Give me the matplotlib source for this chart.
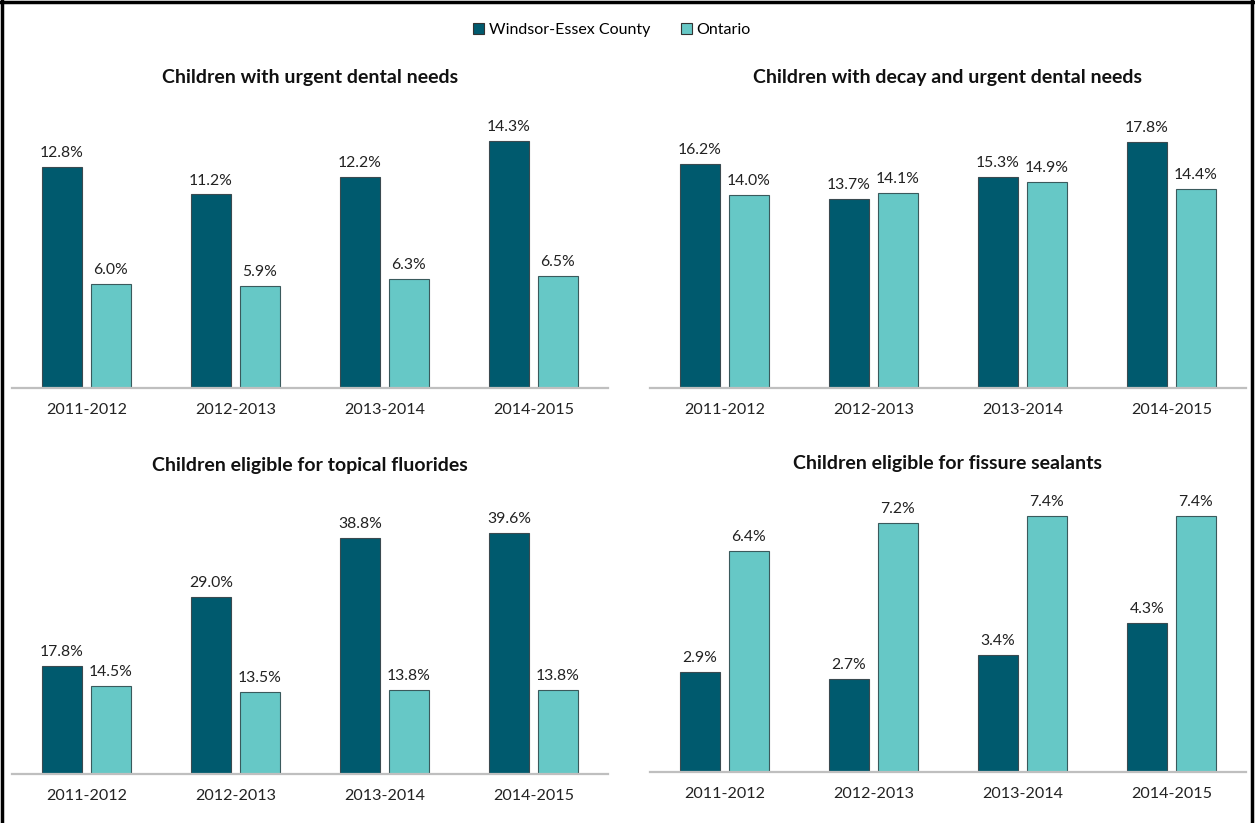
import matplotlib
matplotlib.use("Agg")
import matplotlib.pyplot as plt
from matplotlib.patches import Patch
from matplotlib.lines import Line2D

plt.rcParams['font.family'] = ['Lato', 'DejaVu Sans']

years = ['2011-2012', '2012-2013', '2013-2014', '2014-2015']
series_names = ['Windsor-Essex County', 'Ontario']

urgent_we = [12.8, 11.2, 12.2, 14.3]
urgent_on = [6.0, 5.9, 6.3, 6.5]
decay_we = [16.2, 13.7, 15.3, 17.8]
decay_on = [14.0, 14.1, 14.9, 14.4]
fluor_we = [17.8, 29.0, 38.8, 39.6]
fluor_on = [14.5, 13.5, 13.8, 13.8]
seal_we = [2.9, 2.7, 3.4, 4.3]
seal_on = [6.4, 7.2, 7.4, 7.4]

dark = '#005a6e'
light = '#66c8c6'

W, H = 1255, 823
fig = plt.figure(figsize=(W / 100, H / 100), dpi=100)


def px_axes(x0, y0, x1, y1):
    return fig.add_axes([x0 / W, 1 - y1 / H, (x1 - x0) / W, (y1 - y0) / H])


panels = [
    ((12, 105, 608, 388), 'Children with urgent dental needs', urgent_we, urgent_on, 16.38, 78),
    ((650, 105, 1246, 388), 'Children with decay and urgent dental needs', decay_we, decay_on, 20.5, 78),
    ((12, 490, 608, 774), 'Children eligible for topical fluorides', fluor_we, fluor_on, 46.6, 466),
    ((650, 490, 1246, 772), 'Children eligible for fissure sealants', seal_we, seal_on, 8.16, 464),
]

w = 0.268
off = 0.164
xs = range(len(years))
for rect, title, we, on, ymax, ty in panels:
    ax = px_axes(*rect)
    b1 = ax.bar([x - off for x in xs], we, width=w, color=dark, edgecolor='#3a4a50', linewidth=0.8)
    b2 = ax.bar([x + off for x in xs], on, width=w, color=light, edgecolor='#3a5a5c', linewidth=0.8)
    for b in (b1, b2):
        ax.bar_label(b, fmt='%.1f%%', padding=5, fontsize=11.3, color='#222222')
    ax.set_xlim(-0.5, 3.5)
    ax.set_ylim(0, ymax)
    ax.set_xticks(list(xs))
    ax.set_xticklabels(years, fontsize=11.6, color='#222222')
    ax.tick_params(axis='x', length=0, pad=11)
    ax.set_yticks([])
    for s in ('top', 'left', 'right'):
        ax.spines[s].set_visible(False)
    ax.spines['bottom'].set_color('#bfbfbf')
    ax.spines['bottom'].set_linewidth(1.6)
    cx = (rect[0] + rect[2]) / 2
    fig.text(cx / W, 1 - ty / H, title, ha='center', va='center',
             fontsize=14, fontweight='bold', color='#111111')

handles = [Patch(facecolor=dark, edgecolor='#333333', linewidth=0.8),
           Patch(facecolor=light, edgecolor='#333333', linewidth=0.8)]
fig.legend(handles, series_names, loc='center', bbox_to_anchor=(612 / W, 1 - 30 / H),
           ncol=2, frameon=False, fontsize=11.5, handlelength=0.7, handleheight=0.7,
           handletextpad=0.3, columnspacing=1.9)

# outer frame: left, top and right edges
fig.add_artist(Line2D([2 / W, 2 / W], [0, 1], color='black', linewidth=2.5, transform=fig.transFigure))
fig.add_artist(Line2D([0, 1], [1 - 1.5 / H, 1 - 1.5 / H], color='black', linewidth=2.5, transform=fig.transFigure))
fig.add_artist(Line2D([1 - 3 / W, 1 - 3 / W], [0, 1], color='black', linewidth=2.5, transform=fig.transFigure))

fig.savefig('out.png', dpi=100, facecolor='white')
